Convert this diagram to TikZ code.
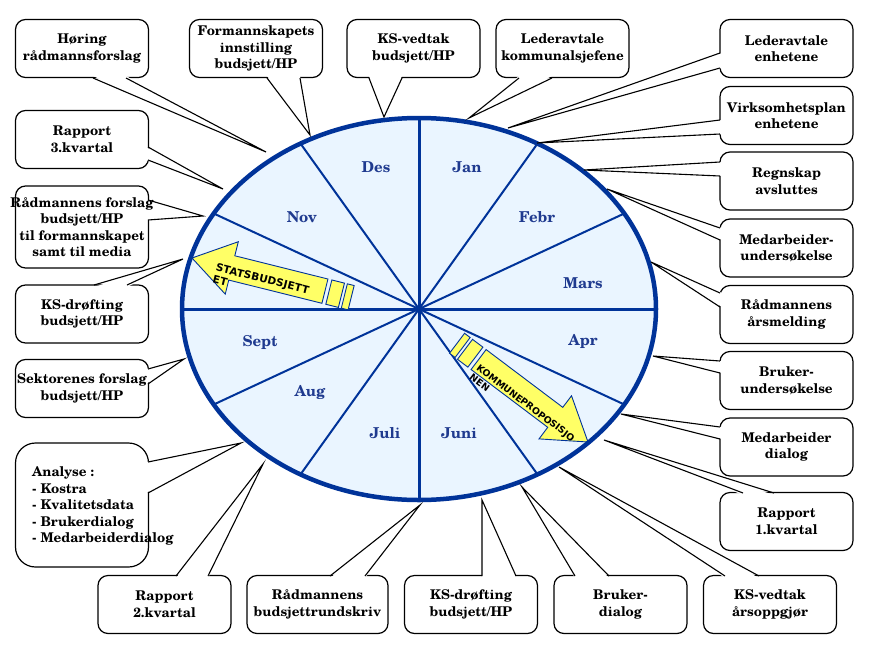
\documentclass[tikz,border=0pt]{standalone}
\usepackage{fontspec}
\usetikzlibrary{calc}
\newfontfamily\bxfont[Extension=.otf]{texgyreschola-bold}
\newfontfamily\arfont{DejaVu Sans}
\definecolor{wheelblue}{HTML}{003399}
\definecolor{wheelfill}{HTML}{EAF5FF}
\definecolor{monthblue}{HTML}{1F3A8F}
\definecolor{arrowyellow}{HTML}{FFFF66}
\newcommand\calltail[4]{%
  \fill[white] ($#1+#4$) -- #3 -- ($#2+#4$) -- cycle;
  \draw[tailline] #1 -- #3 -- #2;}
\begin{document}
\begin{tikzpicture}[x=1pt,y=-1pt,
  box/.style={draw=black, line width=1.2pt, fill=white, rounded corners=10pt,
    minimum width=133pt, minimum height=58pt, inner sep=0pt},
  txt/.style={font=\bxfont\fontsize{13.4}{16.5}\selectfont, align=center, inner sep=0pt},
  month/.style={font=\bxfont\fontsize{15}{18}\selectfont, text=monthblue, inner sep=0pt},
  tailline/.style={draw=black, line width=1.1pt},
  spoke/.style={draw=wheelblue, line width=2pt},
  axis/.style={draw=wheelblue, line width=3pt},
  blockarrow/.style={fill=arrowyellow, draw=wheelblue, line width=0.9pt},
  arrowtxt/.style={align=left, inner sep=0pt}]
\useasboundingbox (0,0) rectangle (877,653);
% wheel
\coordinate (c) at (419,309);
\fill[wheelfill] (c) ellipse [x radius=237pt, y radius=191pt];
\foreach \a in {30,60,120,150,210,240,300,330}
  \draw[spoke] (c) -- ($(c)+({237*cos(\a)},{-191*sin(\a)})$);
\foreach \a in {0,90,180,270}
  \draw[axis] (c) -- ($(c)+({237*cos(\a)},{-191*sin(\a)})$);
% block arrows
\begin{scope}[shift={(192,258)}, rotate=166]
  \draw[blockarrow] (0,0) -- (-41,27) -- (-41,12.5) -- (-137,12.5) -- (-137,-12.5) -- (-41,-12.5) -- (-41,-27) -- cycle;
  \draw[blockarrow] (-141,-12.5) rectangle (-154,12.5);
  \draw[blockarrow] (-157,-12.5) rectangle (-164,12.5);
\end{scope}
\begin{scope}[shift={(588,442)}, rotate=-37]
  \draw[blockarrow] (0,0) -- (-41,27) -- (-41,12.5) -- (-137,12.5) -- (-137,-12.5) -- (-41,-12.5) -- (-41,-27) -- cycle;
  \draw[blockarrow] (-141,-12.5) rectangle (-154,12.5);
  \draw[blockarrow] (-157,-12.5) rectangle (-164,12.5);
\end{scope}
\node[arrowtxt, font=\arfont\bfseries\fontsize{10.5}{12.5}\selectfont\addfontfeature{LetterSpace=1},
  rotate=-14, anchor=north west] (statstxt) at (217,263) {STATSBUDSJETT\\ET};
\node[arrowtxt, font=\arfont\bfseries\fontsize{9.3}{11.5}\selectfont,
  rotate=-37, anchor=north west] (kommtxt) at (480,364) {KOMMUNEPROPOSISJO\\NEN};
\draw[wheelblue, line width=4.5pt] (c) ellipse [x radius=237pt, y radius=191pt];
% month labels
\node[month] (des) at (376,167) {Des};
\node[month] (jan) at (467,167) {Jan};
\node[month] (nov) at (302,217) {Nov};
\node[month] (feb) at (537,217) {Febr};
\node[month] (mar) at (583,283) {Mars};
\node[month] (apr) at (583,341) {Apr};
\node[month] (sep) at (260,342) {Sept};
\node[month] (aug) at (310,392) {Aug};
\node[month] (jul) at (385,433) {Juli};
\node[month] (jun) at (459,433) {Juni};
% boxes
\node[box] (b1) at (82,48.5) {};
\node[box] (b2) at (256,48.5) {};
\node[box] (b3) at (413.5,48.5) {};
\node[box] (b4) at (562.5,48.5) {};
\node[box] (b5) at (786.5,48.5) {};
\node[box] (b6) at (786.5,115.5) {};
\node[box] (b7) at (786.5,181) {};
\node[box] (b8) at (786.5,248) {};
\node[box] (b9) at (786.5,314.5) {};
\node[box] (b10) at (786.5,380.5) {};
\node[box] (b11) at (786.5,447) {};
\node[box] (b12) at (786.5,521.5) {};
\node[box] (b13) at (770,604.5) {};
\node[box] (b14) at (620.5,604.5) {};
\node[box] (b15) at (471,604.5) {};
\node[box, minimum width=141pt] (b16) at (317.5,604.5) {};
\node[box] (b17) at (164.5,604.5) {};
\node[box, minimum height=124pt, rounded corners=20pt] (b18) at (82,505) {};
\node[box] (b19) at (82,388.5) {};
\node[box] (b20) at (82,314) {};
\node[box, minimum height=82pt] (b21) at (82,227) {};
\node[box] (b22) at (82,139.5) {};
% callout tips
\coordinate (t1) at (266,152);
\coordinate (t2) at (310,135);
\coordinate (t3) at (384,117);
\coordinate (t4) at (469,118);
\coordinate (t5) at (508,128);
\coordinate (t6) at (537,143);
\coordinate (t7) at (584,170);
\coordinate (t8) at (607,189);
\coordinate (t9) at (651,262);
\coordinate (t10) at (653,356);
\coordinate (t11) at (621,414);
\coordinate (t12) at (604,440);
\coordinate (t13) at (559,467);
\coordinate (t14) at (522,487);
\coordinate (t15) at (482,500);
\coordinate (t16) at (420,505);
\coordinate (t17) at (263,464);
\coordinate (t18) at (241,443);
\coordinate (t19) at (184,359);
\coordinate (t20) at (183,259);
\coordinate (t21) at (203,216);
\coordinate (t22) at (223,189);
% tails
\calltail{(93,78)}{(126,78)}{(t1)}{(0,-2)}
\calltail{(267,78)}{(300,78)}{(t2)}{(0,-2)}
\calltail{(369,78)}{(402,78)}{(t3)}{(0,-2)}
\calltail{(519,78)}{(552,78)}{(t4)}{(0,-2)}
\calltail{(720,53)}{(720,68)}{(t5)}{(2,0)}
\calltail{(720,120)}{(720,134)}{(t6)}{(2,0)}
\calltail{(720,162)}{(720,176)}{(t7)}{(2,0)}
\calltail{(720,228)}{(720,240)}{(t8)}{(2,0)}
\calltail{(720,293)}{(720,307)}{(t9)}{(2,0)}
\calltail{(720,361)}{(720,373)}{(t10)}{(2,0)}
\calltail{(720,427)}{(720,439)}{(t11)}{(2,0)}
\calltail{(743,493)}{(774,493)}{(t12)}{(0,2)}
\calltail{(725,576)}{(759,576)}{(t13)}{(0,2)}
\calltail{(575,576)}{(609,576)}{(t14)}{(0,2)}
\calltail{(482,576)}{(516,576)}{(t15)}{(0,2)}
\calltail{(330,576)}{(365,576)}{(t16)}{(0,2)}
\calltail{(176,576)}{(208,576)}{(t17)}{(0,2)}
\calltail{(148,462)}{(148,493)}{(t18)}{(-2,0)}
\calltail{(148,369)}{(148,384)}{(t19)}{(-2,0)}
\calltail{(94,285)}{(127,285)}{(t20)}{(0,2)}
\calltail{(148,200)}{(148,220)}{(t21)}{(-2,0)}
\calltail{(148,147)}{(148,160)}{(t22)}{(-2,0)}
% texts
\node[txt] (l1) at (b1) {Høring\\rådmannsforslag};
\node[txt] (l2) at (b2) {Formannskapets\\innstilling\\budsjett/HP};
\node[txt] (l3) at (b3) {KS-vedtak\\budsjett/HP};
\node[txt] (l4) at (b4) {Lederavtale\\kommunalsjefene};
\node[txt] (l5) at (b5) {Lederavtale\\enhetene};
\node[txt] (l6) at (b6) {Virksomhetsplan\\enhetene};
\node[txt] (l7) at (b7) {Regnskap\\avsluttes};
\node[txt] (l8) at (b8) {Medarbeider-\\undersøkelse};
\node[txt] (l9) at (b9) {Rådmannens\\årsmelding};
\node[txt] (l10) at (b10) {Bruker-\\undersøkelse};
\node[txt] (l11) at (b11) {Medarbeider\\dialog};
\node[txt] (l12) at (b12) {Rapport\\1.kvartal};
\node[txt] (l13) at (b13) {KS-vedtak\\årsoppgjør};
\node[txt] (l14) at (b14) {Bruker-\\dialog};
\node[txt] (l15) at (b15) {KS-drøfting\\budsjett/HP};
\node[txt] (l16) at (b16) {Rådmannens\\budsjettrundskriv};
\node[txt] (l17) at (b17) {Rapport\\2.kvartal};
\node[txt, align=left, anchor=west] (l18) at (32,506) {Analyse :\\- Kostra\\- Kvalitetsdata\\- Brukerdialog\\- Medarbeiderdialog};
\node[txt] (l19) at (b19) {Sektorenes forslag\\budsjett/HP};
\node[txt] (l20) at (b20) {KS-drøfting\\budsjett/HP};
\node[txt] (l21) at (b21) {Rådmannens forslag\\budsjett/HP\\til formannskapet\\samt til media};
\node[txt] (l22) at (b22) {Rapport\\3.kvartal};
\end{tikzpicture}
\end{document}
